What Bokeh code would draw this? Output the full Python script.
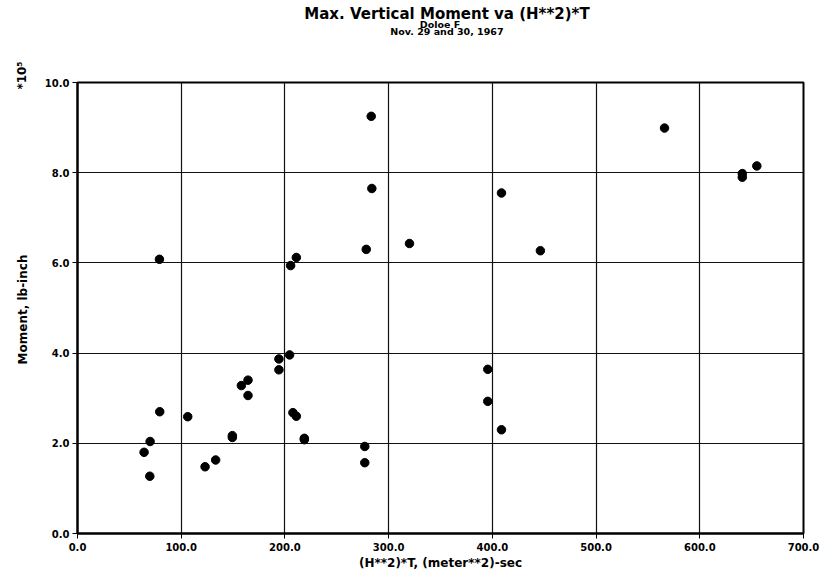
from bokeh.plotting import figure
from bokeh.models import FixedTicker, Range1d
from bokeh.layouts import row, column
from bokeh.core.properties import value
from bokeh.embed import file_html
from bokeh.resources import INLINE
import math

# ---- data ----
ht = [64.2, 70.0, 69.7, 79.3, 79.0, 106.3, 123.0, 133.2, 149.3, 149.3,
      158.0, 164.4, 164.4, 194.2, 194.2, 204.5, 205.5, 207.7, 211.0, 211.0,
      218.7, 218.7, 277.0, 277.0, 278.4, 283.2, 283.8, 320.1, 395.6, 395.6,
      408.8, 408.8, 446.3, 566.0, 641.0, 641.0, 655.0]
moment = [1.80, 2.04, 1.27, 2.70, 6.08, 2.59, 1.48, 1.63, 2.17, 2.13,
          3.28, 3.40, 3.06, 3.87, 3.63, 3.96, 5.94, 2.68, 2.60, 6.12,
          2.11, 2.08, 1.93, 1.57, 6.30, 9.25, 7.65, 6.43, 3.64, 2.93,
          2.30, 7.55, 6.27, 8.99, 7.98, 7.90, 8.15]

x_ticks = [0, 100, 200, 300, 400, 500, 600, 700]
x_tick_labels = ["0.0", "100.0", "200.0", "300.0", "400.0", "500.0", "600.0", "700.0"]
y_ticks = [0, 2, 4, 6, 8, 10]
y_tick_labels = ["0.0", "2.0", "4.0", "6.0", "8.0", "10.0"]

title_text = "Max. Vertical Moment va (H**2)*T"
sub1_text = "Doloe F"
sub2_text = "Nov. 29 and 30, 1967"
x_label = "(H**2)*T, (meter**2)-sec"
y_label = "Moment, lb-inch"
y_scale_text = "*10\u2075"

FONT = "DejaVu Sans"
LEFT_W = 40
HEAD_H = 78
MAIN_W = 37 + 726 + 23
MAIN_H = 4 + 451 + 44
TOTAL_H = HEAD_H + MAIN_H


def blank_fig(w, h):
    f = figure(width=w, height=h, x_range=Range1d(0, w), y_range=Range1d(0, h),
               output_backend="svg", toolbar_location=None, title=None,
               x_axis_type=None, y_axis_type=None, min_border=0)
    f.grid.visible = False
    f.outline_line_color = None
    f.background_fill_color = "white"
    f.border_fill_color = "white"
    return f


def put_text(f, x, y, text, size, angle=0.0, baseline="alphabetic"):
    f.text(x=[x], y=[y], text=[text], text_font=value(FONT),
           text_font_style=value("bold"), text_font_size=value(size),
           text_align=value("center"), text_baseline=value(baseline),
           angle=angle, text_color="black")


# ---- header (titles); positions in pixels of the header strip ----
head = blank_fig(MAIN_W, HEAD_H)
put_text(head, 440 - LEFT_W, HEAD_H - 13.5, title_text, "15px")
put_text(head, 432.5 - LEFT_W, HEAD_H - 23.5, sub1_text, "9.5px")
put_text(head, 440 - LEFT_W, HEAD_H - 30.5, sub2_text, "9.5px")

# ---- left strip (y-axis title and scale factor) ----
left = blank_fig(LEFT_W, TOTAL_H)
put_text(left, 22, TOTAL_H - 309, y_label, "12px", angle=math.pi / 2, baseline="middle")
put_text(left, 21, TOTAL_H - 75, y_scale_text, "12px", angle=math.pi / 2, baseline="middle")

# ---- main plot ----
p = figure(frame_width=726, frame_height=451, title=None,
           x_range=Range1d(0, 700), y_range=Range1d(0, 10),
           output_backend="svg", toolbar_location=None,
           min_border_left=37, min_border_right=23,
           min_border_top=4, min_border_bottom=44)
p.background_fill_color = "white"
p.border_fill_color = "white"
p.outline_line_color = "black"
p.outline_line_width = 2

for g in (p.xgrid, p.ygrid):
    g.grid_line_color = "#111111"
    g.grid_line_width = 1.2
    g.grid_line_alpha = 1.0

p.xaxis.ticker = FixedTicker(ticks=x_ticks)
p.xaxis.major_label_overrides = {t: l for t, l in zip(x_ticks, x_tick_labels)}
p.yaxis.ticker = FixedTicker(ticks=y_ticks)
p.yaxis.major_label_overrides = {t: l for t, l in zip(y_ticks, y_tick_labels)}
for ax in (p.xaxis, p.yaxis):
    ax.axis_line_color = "black"
    ax.axis_line_width = 2
    ax.major_tick_in = 0
    ax.major_tick_out = 5
    ax.major_tick_line_color = "black"
    ax.major_tick_line_width = 1
    ax.minor_tick_line_color = None
    ax.major_label_text_font = FONT
    ax.major_label_text_font_style = "bold"
    ax.major_label_text_font_size = "10px"
    ax.major_label_text_color = "black"
p.yaxis.major_label_standoff = 3
p.xaxis.major_label_standoff = 4
p.xaxis.axis_label = x_label
p.xaxis.axis_label_text_font = FONT
p.xaxis.axis_label_text_font_style = "bold"
p.xaxis.axis_label_text_font_size = "12px"
p.xaxis.axis_label_text_color = "black"
p.xaxis.axis_label_standoff = 2

p.scatter(ht, moment, size=8.5, marker="circle", fill_color="black", line_color="black")

layout = row(left, column(head, p))
open("out.html", "w").write(file_html(layout, INLINE))
